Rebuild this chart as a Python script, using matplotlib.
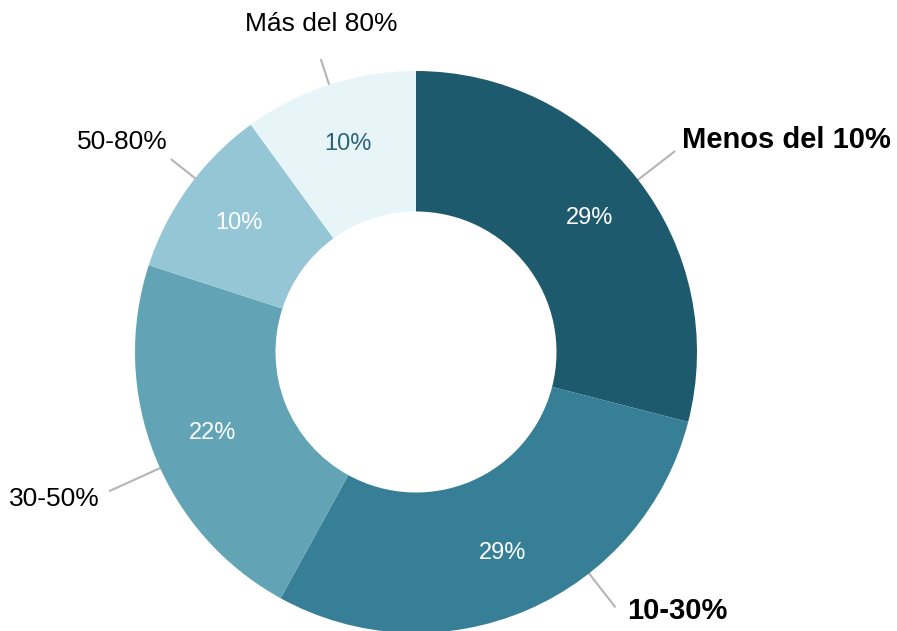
import numpy as np
import matplotlib
matplotlib.use("Agg")
import matplotlib.pyplot as plt

plt.rcParams['font.family'] = ['Liberation Sans', 'DejaVu Sans']

categories = ["Menos del 10%", "10-30%", "30-50%", "50-80%", "Más del 80%"]
values = [29, 29, 22, 10, 10]
pct_labels = ["29%", "29%", "22%", "10%", "10%"]
colors = ["#1e5a6e", "#377f97", "#62a3b6", "#95c6d6", "#e7f4f8"]
pct_colors = ["white", "white", "white", "white", "#2b6378"]
bold = [True, True, False, False, False]

# label placement tweaks (leader angle shift, leader length, text offset, alignment)
angle_shift = [0, 14.6, 2.8, -2.2, 0]
line_len = [46, 42, 55, 30, 26]
text_off = [(8, 12), (12, -4), (-10, -8), (-4, 18), (0, 36)]
text_ha = ["left", "left", "right", "right", "center"]

W, H = 897, 631
cx, cy = 416, H - 352
R = 281

fig = plt.figure(figsize=(W / 100, H / 100), dpi=100)
ax = fig.add_axes([0, 0, 1, 1])

wedges, _ = ax.pie(values, colors=colors, startangle=90, counterclock=False,
                   center=(cx, cy), radius=R,
                   wedgeprops=dict(width=R * 0.5, linewidth=0))

# pie resets the limits, so set them afterwards
ax.set_xlim(0, W)
ax.set_ylim(0, H)
ax.set_aspect('equal')
ax.axis('off')

for i, w in enumerate(wedges):
    mid = (w.theta1 + w.theta2) / 2
    a = np.deg2rad(mid)
    # percentage inside the ring
    ax.text(cx + 0.78 * R * np.cos(a), cy + 0.78 * R * np.sin(a), pct_labels[i],
            ha='center', va='center', fontsize=17, color=pct_colors[i])
    # leader line + category label
    b = np.deg2rad(mid + angle_shift[i])
    r1 = R + line_len[i]
    x0, y0 = cx + R * np.cos(b), cy + R * np.sin(b)
    x1, y1 = cx + r1 * np.cos(b), cy + r1 * np.sin(b)
    ax.plot([x0, x1], [y0, y1], color="#b5b5b5", lw=1.5, zorder=0)
    ax.text(x1 + text_off[i][0], y1 + text_off[i][1], categories[i],
            ha=text_ha[i], va='center',
            fontsize=21 if bold[i] else 19,
            fontweight='bold' if bold[i] else 'normal', color='black')

plt.savefig("out.png", dpi=100)
